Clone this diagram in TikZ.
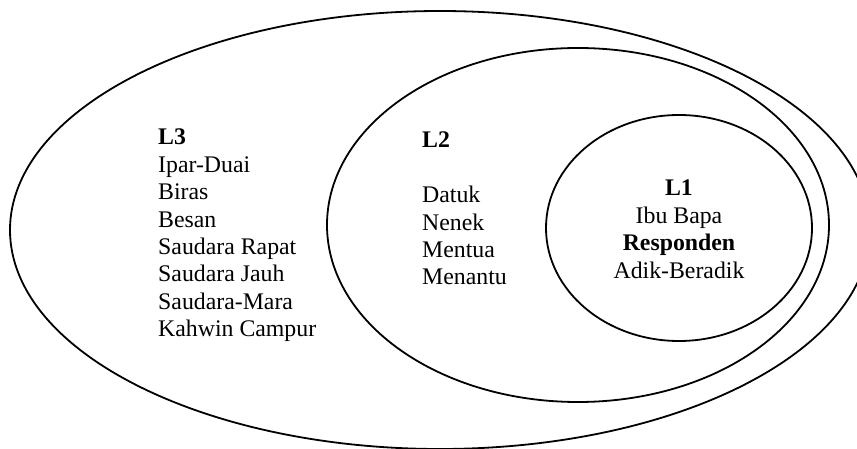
\documentclass[tikz,border=0pt]{standalone}
\usepackage{fontspec}
\setmainfont{Liberation Serif}

\begin{document}
\begin{tikzpicture}[x=1pt, y=-1pt,
    ring/.style={line width=1.8pt},
    lvl/.style={inner sep=0pt, font=\fontsize{23.8}{27.4}\selectfont}]
    \useasboundingbox (0,0) rectangle (857,449);
    % the three rings, outer to inner
    \draw[ring] (440,230) ellipse (430 and 219);
    \draw[ring] (578,225) ellipse (251 and 177);
    \draw[ring] (679,228) ellipse (133 and 113);
    \node[lvl, anchor=north west, align=left] (L3) at (158,129)
      {\textbf{L3}\\Ipar-Duai\\Biras\\Besan\\Saudara Rapat\\Saudara Jauh\\Saudara-Mara\\Kahwin Campur};
    \node[lvl, anchor=north west, align=left] (L2) at (422,132)
      {\textbf{L2}\\[27.4pt]Datuk\\Nenek\\Mentua\\Menantu};
    \node[lvl, anchor=north, align=center] (L1) at (679,180)
      {\textbf{L1}\\Ibu Bapa\\\textbf{Responden}\\Adik-Beradik};
  \end{tikzpicture}
\end{document}
